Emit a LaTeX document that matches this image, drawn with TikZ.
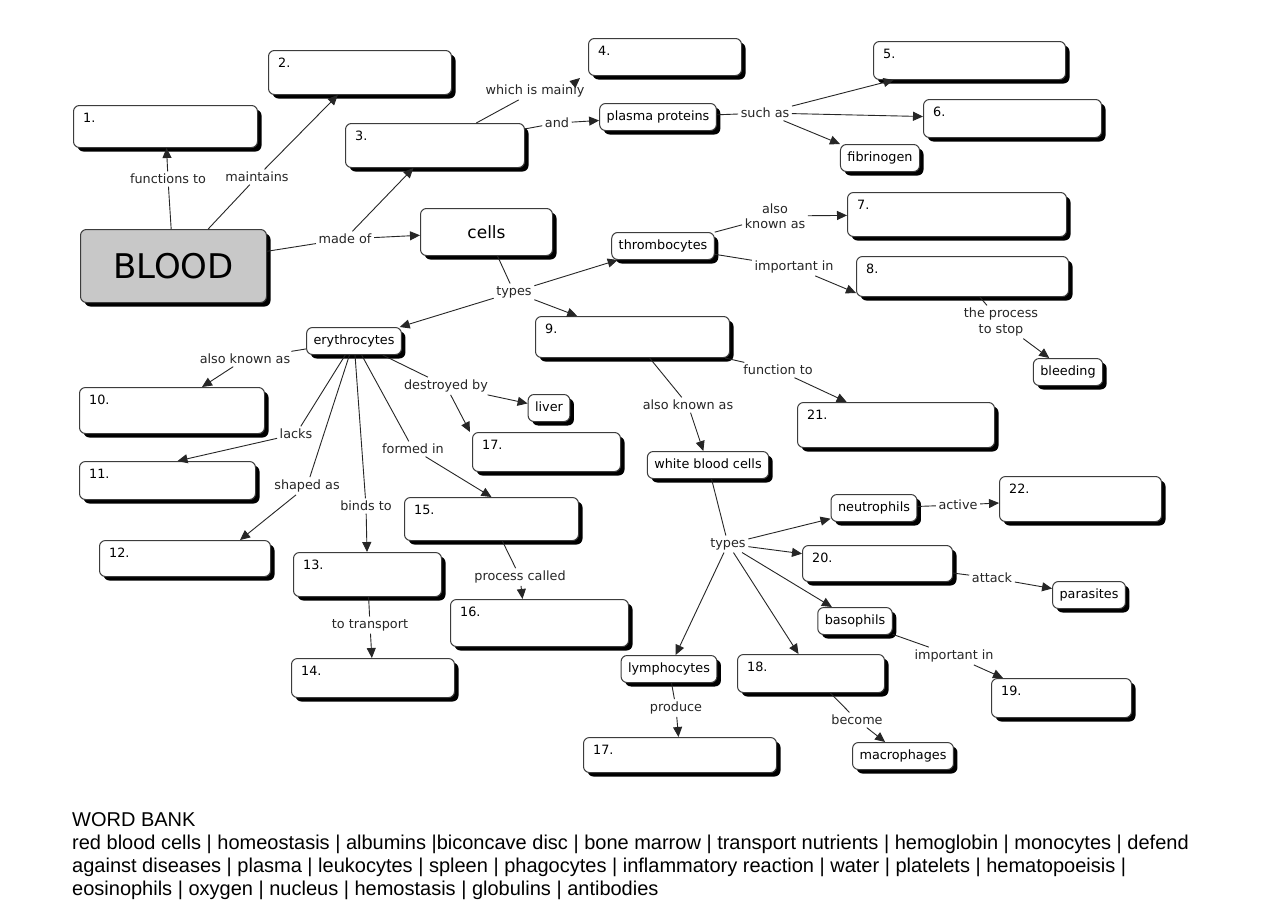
\documentclass[tikz,border=0pt]{standalone}
\usepackage{fontspec}
\setmainfont{DejaVu Sans}
\newfontfamily\wbfont{Liberation Sans}
\usetikzlibrary{arrows.meta,shadows}
\definecolor{bgray}{RGB}{200,200,200}
\definecolor{edge}{RGB}{60,60,60}
\begin{document}
\begin{tikzpicture}[x=1pt,y=-1pt,
  box/.style={draw=edge, line width=1pt, rounded corners=6pt, fill=white,
    drop shadow={shadow xshift=4pt, shadow yshift=-4pt, fill=black, opacity=1}},
  nbox/.style={box, anchor=north west, inner sep=0pt},
  tbox/.style={box, font=\fontsize{12.8}{14}\selectfont, inner xsep=7pt, inner ysep=0pt,
    minimum height=27pt, text height=9.5pt, text depth=3pt},
  numtxt/.style={anchor=north west, inner sep=0pt, font=\fontsize{12.8}{14}\selectfont},
  lbl/.style={font=\fontsize{12.8}{15.5}\selectfont, inner sep=2.5pt, align=center, text=black!85},
  ln/.style={draw=black!85, line width=0.9pt},
  arr/.style={ln, -{Triangle[length=10pt,width=9pt]}},
  wb/.style={anchor=base west, inner sep=0pt, font=\wbfont\fontsize{20}{23}\selectfont},
]
\newcommand\nb[6]{\node[nbox, minimum width=#5pt, minimum height=#6pt] (#1) at (#3,#4) {};
  \node[numtxt] (#1t) at ([xshift=10pt,yshift=-8pt]#1.north west) {#2};}
\useasboundingbox (0,0) rectangle (1265,916);
\fill[white] (0,0) rectangle (1265,916);

% numbered boxes
\nb{n1}{1.}{73}{105}{184}{42}
\nb{n2}{2.}{268}{50}{183}{44}
\nb{n3}{3.}{345}{123}{179}{44}
\nb{n4}{4.}{588}{38}{153}{37}
\nb{n5}{5.}{873}{41}{192}{38}
\nb{n6}{6.}{923}{99}{178}{38}
\nb{n7}{7.}{847}{192}{219}{44}
\nb{n8}{8.}{856}{256}{212}{40}
\nb{n9}{9.}{535}{316}{194}{41}
\nb{n10}{10.}{79}{387}{185}{46}
\nb{n11}{11.}{79}{461}{176}{38}
\nb{n12}{12.}{99}{540}{171}{36}
\nb{n13}{13.}{293}{552}{148}{44}
\nb{n14}{14.}{291}{658}{163}{39}
\nb{n15}{15.}{404}{497}{174}{43}
\nb{n16}{16.}{450}{599}{178}{47}
\nb{n17a}{17.}{472}{432}{148}{39}
\nb{n17b}{17.}{583}{737}{193}{35}
\nb{n18}{18.}{737}{654}{147}{38}
\nb{n19}{19.}{991}{678}{140}{39}
\nb{n20}{20.}{802}{545}{150}{36}
\nb{n21}{21.}{797}{402}{197}{45}
\nb{n22}{22.}{999}{476}{162}{45}

% main concept boxes
\node[box, fill=bgray, anchor=north west, minimum width=186pt, minimum height=73pt,
  font=\fontsize{34}{40}\selectfont] (blood) at (80,229) {BLOOD};
\node[box, anchor=north west, minimum width=132pt, minimum height=47pt,
  font=\fontsize{17}{20}\selectfont] (cells) at (420,208) {cells};

% text boxes
\node[tbox] (plasma) at (658,117) {plasma proteins};
\node[tbox] (fibr) at (880,158) {fibrinogen};
\node[tbox] (thromb) at (663,246) {thrombocytes};
\node[tbox] (bleed) at (1068,372) {bleeding};
\node[tbox] (eryth) at (354,341) {erythrocytes};
\node[tbox] (liver) at (549,408) {liver};
\node[tbox] (wbc) at (708,465) {white blood cells};
\node[tbox] (neut) at (874,508) {neutrophils};
\node[tbox] (paras) at (1089,595) {parasites};
\node[tbox] (baso) at (855,621) {basophils};
\node[tbox] (lymph) at (669,669) {lymphocytes};
\node[tbox] (macro) at (903,756) {macrophages};

% link labels
\node[lbl] (lfun) at (168,179) {functions to};
\node[lbl] (lmain) at (257,177) {maintains};
\node[lbl] (lmade) at (345,239) {made of};
\node[lbl] (lwhm) at (535,91) {which is mainly};
\node[lbl] (land) at (557,123) {and};
\node[lbl] (lsuch) at (765,113) {such as};
\node[lbl] (laka1) at (775,216) {also\\known as};
\node[lbl] (limp1) at (794,267) {important in};
\node[lbl] (ltypes1) at (514,292) {types};
\node[lbl] (lproc) at (1001,322) {the process\\to stop};
\node[lbl] (laka2) at (245,359) {also known as};
\node[lbl] (ldestr) at (446,386) {destroyed by};
\node[lbl] (llacks) at (296,434) {lacks};
\node[lbl] (lformed) at (413,449) {formed in};
\node[lbl] (lshaped) at (307,486) {shaped as};
\node[lbl] (lbinds) at (366,506) {binds to};
\node[lbl] (lfunc) at (778,370) {function to};
\node[lbl] (laka3) at (688,405) {also known as};
\node[lbl] (lpcall) at (520,577) {process called};
\node[lbl] (ltransp) at (370,625) {to transport};
\node[lbl] (ltypes2) at (728,544) {types};
\node[lbl] (lactive) at (958,505) {active};
\node[lbl] (lattack) at (992,578) {attack};
\node[lbl] (limp2) at (954,656) {important in};
\node[lbl] (lprod) at (676,708) {produce};
\node[lbl] (lbecome) at (857,720) {become};

% connectors
\draw[ln] (blood) -- (lfun);   \draw[arr] (lfun) -- (n1);
\draw[ln] (blood) -- (lmain);  \draw[arr] (lmain) -- (n2);
\draw[ln] (blood) -- (lmade);  \draw[arr] (lmade) -- (n3);  \draw[arr] (lmade) -- (cells);
\draw[ln] (n3) -- (lwhm);
\draw[arr] ([xshift=-13pt,yshift=-1pt]lwhm.north east) -- ([xshift=-8pt,yshift=-2pt]n4.south west);
\draw[ln] (n3) -- (land);      \draw[arr] (land) -- (plasma);
\draw[ln] (plasma) -- (lsuch);
\draw[arr] (lsuch) -- (n5);  \draw[arr] (lsuch) -- (n6);  \draw[arr] (lsuch) -- (fibr.north west);
\draw[ln] (cells) -- (ltypes1);
\draw[arr] (ltypes1) -- (thromb); \draw[arr] (ltypes1) -- (eryth); \draw[arr] (ltypes1) -- (n9);
\draw[ln] (thromb) -- (laka1); \draw[arr] (laka1) -- (n7);
\draw[ln] (thromb) -- (limp1); \draw[arr] (limp1) -- ([yshift=4pt]n8.south west);
\draw[ln] (n8) -- (lproc);     \draw[arr] (lproc) -- (bleed);
\draw[ln] (eryth) -- (laka2);  \draw[arr] (laka2) -- ([xshift=30pt]n10.north);
\draw[ln] (eryth) -- (ldestr); \draw[arr] (ldestr) -- (liver); \draw[arr] (ldestr) -- ([xshift=-2pt]n17a.north west);
\draw[ln] (eryth) -- (llacks); \draw[arr] (llacks) -- ([xshift=10pt]n11.north);
\draw[ln] (eryth) -- (lshaped); \draw[arr] (lshaped) -- ([xshift=55pt]n12.north);
\draw[ln] (eryth) -- (lbinds); \draw[arr] (lbinds) -- (n13);
\draw[ln] (eryth) -- (lformed); \draw[arr] (lformed) -- (n15.north);
\draw[ln] (n13) -- (ltransp);  \draw[arr] (ltransp) -- (n14);
\draw[ln] (n15) -- (lpcall);   \draw[arr] (lpcall) -- ([xshift=-17pt]n16.north);
\draw[ln] (n9) -- (lfunc);     \draw[arr] (lfunc) -- (n21);
\draw[ln] (n9) -- (laka3);     \draw[arr] (laka3) -- (wbc);
\draw[ln] (wbc) -- (ltypes2);
\draw[arr] (ltypes2) -- (neut); \draw[arr] (ltypes2) -- (n20); \draw[arr] (ltypes2) -- (baso);
\draw[arr] (ltypes2) -- (lymph); \draw[arr] (ltypes2) -- (n18);
\draw[ln] (neut) -- (lactive); \draw[arr] (lactive) -- (n22);
\draw[ln] (n20) -- (lattack);  \draw[arr] (lattack) -- (paras);
\draw[ln] (baso) -- (limp2);   \draw[arr] (limp2) -- ([xshift=12pt]n19.north west);
\draw[ln] (lymph) -- (lprod);  \draw[arr] (lprod) -- (n17b);
\draw[ln] (n18) -- (lbecome);  \draw[arr] (lbecome) -- (macro);

% word bank
\node[wb] (wb0) at (72,826) {WORD BANK};
\node[wb] (wb1) at (72,849) {red blood cells | homeostasis | albumins |biconcave disc | bone marrow | transport nutrients | hemoglobin | monocytes | defend};
\node[wb] (wb2) at (72,872) {against diseases | plasma | leukocytes | spleen | phagocytes | inflammatory reaction | water | platelets | hematopoeisis |};
\node[wb] (wb3) at (72,895) {eosinophils | oxygen | nucleus | hemostasis | globulins | antibodies};
\end{tikzpicture}
\end{document}
